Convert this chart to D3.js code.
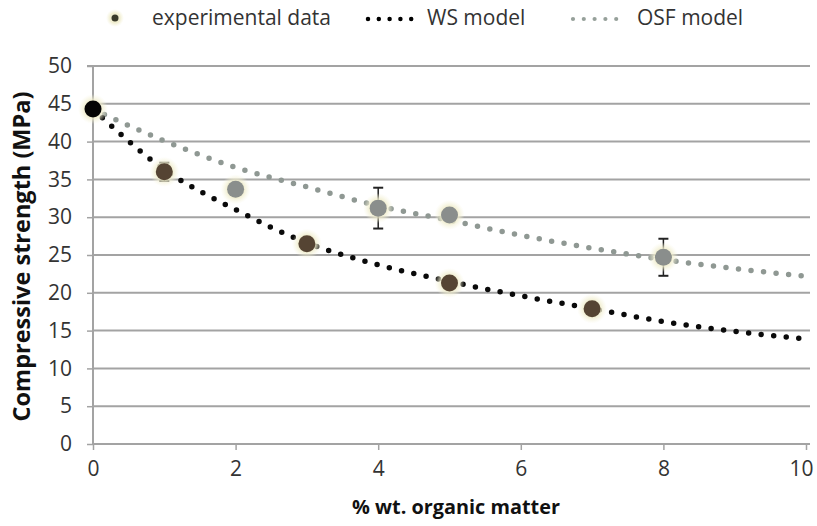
<!DOCTYPE html>
<html><head><meta charset="utf-8">
<script src="https://cdn.jsdelivr.net/npm/d3@7"></script>
<style>body{margin:0;background:#fff}svg{display:block}text{font-family:"Open Sans","Noto Sans",sans-serif}</style>
</head><body>
<svg id="c" width="817" height="526"></svg>
<script>
// Experimental data
const expX = [0, 1, 2, 3, 4, 5, 5, 7, 8];
const expY = [44.3, 36.0, 33.7, 26.5, 31.2, 30.3, 21.3, 17.9, 24.7];
const expErr = [0, 1.2, 0.5, 0.6, 2.7, 0.6, 0.5, 0.5, 2.45];
const expGroup = ["start", "WS", "OSF", "WS", "OSF", "OSF", "WS", "WS", "OSF"];
// Model curves
const modelX = [0, 1, 2, 3, 4, 5, 6, 7, 8, 9, 10];
const wsY  = [44.3, 36.3, 31.0, 26.6, 23.7, 21.5, 19.6, 17.9, 16.2, 14.9, 13.9];
const osfY = [44.3, 40.1, 36.6, 34.0, 31.5, 29.6, 27.6, 25.9, 24.4, 23.2, 22.2];
// Axes
const xTicks = [0, 2, 4, 6, 8, 10];
const yTicks = [0, 5, 10, 15, 20, 25, 30, 35, 40, 45, 50];
const legendLabels = ["experimental data", "WS model", "OSF model"];

const svg = d3.select("#c");
const L = 93, R = 806, T = 66, B = 444;
const x = d3.scaleLinear().domain([0, 10]).range([L, R]);
const y = d3.scaleLinear().domain([0, 50]).range([B, T]);
const gridC = "#a3a3a3", textC = "#333";
const colors = {start: "#050505", WS: "#554433", OSF: "#8a8e8c"};

const defs = svg.append("defs");
const rg = defs.append("radialGradient").attr("id", "glow");
rg.append("stop").attr("offset", "0.55").attr("stop-color", "#efeccb").attr("stop-opacity", 0.9);
rg.append("stop").attr("offset", "1").attr("stop-color", "#f6f4dc").attr("stop-opacity", 0);

// gridlines
svg.append("g").selectAll("line").data(yTicks).join("line")
  .attr("x1", L).attr("x2", R + 4).attr("y1", d => y(d)).attr("y2", d => y(d))
  .attr("stroke", gridC).attr("stroke-width", 2);

// y axis
const yAxis = svg.append("g").attr("transform", `translate(${L},0)`)
  .call(d3.axisLeft(y).tickValues(yTicks).tickSize(6).tickPadding(15));
yAxis.select(".domain").attr("stroke", gridC).attr("stroke-width", 2).attr("d", `M-6,${T}H0V${B}`);
yAxis.selectAll(".tick line").attr("stroke", gridC).attr("stroke-width", 1.5);
yAxis.selectAll(".tick text").attr("fill", textC).style("font-size", "21px").style("font-family", '"Open Sans",sans-serif');

// x axis
const xAxis = svg.append("g").attr("transform", `translate(0,${B})`)
  .call(d3.axisBottom(x).tickValues(xTicks).tickSize(6).tickPadding(11));
xAxis.select(".domain").remove();
xAxis.selectAll(".tick line").attr("stroke", gridC).attr("stroke-width", 1.5);
xAxis.selectAll(".tick text").attr("fill", textC).style("font-size", "21px").style("font-family", '"Open Sans",sans-serif')
  .attr("dx", d => d === 10 ? -5 : 0);

// model lines
const line = d3.line().x((d, i) => x(modelX[i])).y(d => y(d)).curve(d3.curveMonotoneX);
svg.append("path").attr("d", line(osfY)).attr("fill", "none")
  .attr("stroke", "#8f9893").attr("stroke-width", 5.5).attr("stroke-linecap", "round").attr("stroke-dasharray", "0 12.6");
svg.append("path").attr("d", line(wsY)).attr("fill", "none")
  .attr("stroke", "#0a0a0a").attr("stroke-width", 5.5).attr("stroke-linecap", "round").attr("stroke-dasharray", "0 12.6");

// error bars
const pts = expX.map((v, i) => ({x: v, y: expY[i], e: expErr[i], g: expGroup[i]}));
const eb = svg.append("g").selectAll("g").data(pts.filter(d => d.e > 0)).join("g");
eb.append("line").attr("x1", d => x(d.x)).attr("x2", d => x(d.x))
  .attr("y1", d => y(d.y + d.e)).attr("y2", d => y(d.y - d.e)).attr("stroke", "#222").attr("stroke-width", 1.5);
eb.append("line").attr("x1", d => x(d.x) - 5).attr("x2", d => x(d.x) + 5)
  .attr("y1", d => y(d.y + d.e)).attr("y2", d => y(d.y + d.e)).attr("stroke", "#222").attr("stroke-width", 2);
eb.append("line").attr("x1", d => x(d.x) - 5).attr("x2", d => x(d.x) + 5)
  .attr("y1", d => y(d.y - d.e)).attr("y2", d => y(d.y - d.e)).attr("stroke", "#222").attr("stroke-width", 2);

// points with glow
svg.append("g").selectAll("circle").data(pts).join("circle")
  .attr("cx", d => x(d.x)).attr("cy", d => y(d.y)).attr("r", 15).attr("fill", "url(#glow)");
svg.append("g").selectAll("circle").data(pts).join("circle")
  .attr("cx", d => x(d.x)).attr("cy", d => y(d.y)).attr("r", 8.5).attr("fill", d => colors[d.g]);

// axis titles
function fit(sel, target) {
  const w = sel.node().getComputedTextLength();
  const fs = parseFloat(sel.style("font-size"));
  sel.style("font-size", (fs * target / w) + "px");
}
const yt = svg.append("text").attr("transform", `translate(30,${(90 + 423) / 2}) rotate(-90)`)
  .attr("text-anchor", "middle").attr("fill", "#111").style("font-weight", "bold").style("font-size", "18px")
  .text("Compressive strength (MPa)");
fit(yt, 330);
const xt = svg.append("text").attr("x", 456).attr("y", 514).attr("text-anchor", "middle")
  .attr("fill", "#111").style("font-weight", "bold").style("font-size", "17px").text("% wt. organic matter");
fit(xt, 208);

// legend
const lg = svg.append("g");
lg.append("circle").attr("cx", 115).attr("cy", 18).attr("r", 9).attr("fill", "url(#glow)");
lg.append("circle").attr("cx", 115).attr("cy", 18).attr("r", 3.5).attr("fill", "#3a3a2a");
lg.append("line").attr("x1", 368).attr("x2", 422).attr("y1", 19).attr("y2", 19)
  .attr("stroke", "#000").attr("stroke-width", 4.5).attr("stroke-linecap", "round").attr("stroke-dasharray", "0 10.8");
lg.append("line").attr("x1", 573).attr("x2", 627).attr("y1", 19).attr("y2", 19)
  .attr("stroke", "#96a09a").attr("stroke-width", 4.2).attr("stroke-linecap", "round").attr("stroke-dasharray", "0 10.8");
const lx = [152, 427, 637], lw = [178, 114, 107];
const lt = lg.selectAll("text.lt").data(legendLabels).join("text").attr("class", "lt")
  .attr("x", (d, i) => lx[i]).attr("y", 25).attr("fill", textC).style("font-size", "20px").text(d => d);
let nat = 0; lt.each(function() { nat += this.getComputedTextLength(); });
const fsz = Math.min(21, 20 * d3.sum(lw) / nat);
lt.style("font-size", fsz + "px");
</script>
</body></html>
